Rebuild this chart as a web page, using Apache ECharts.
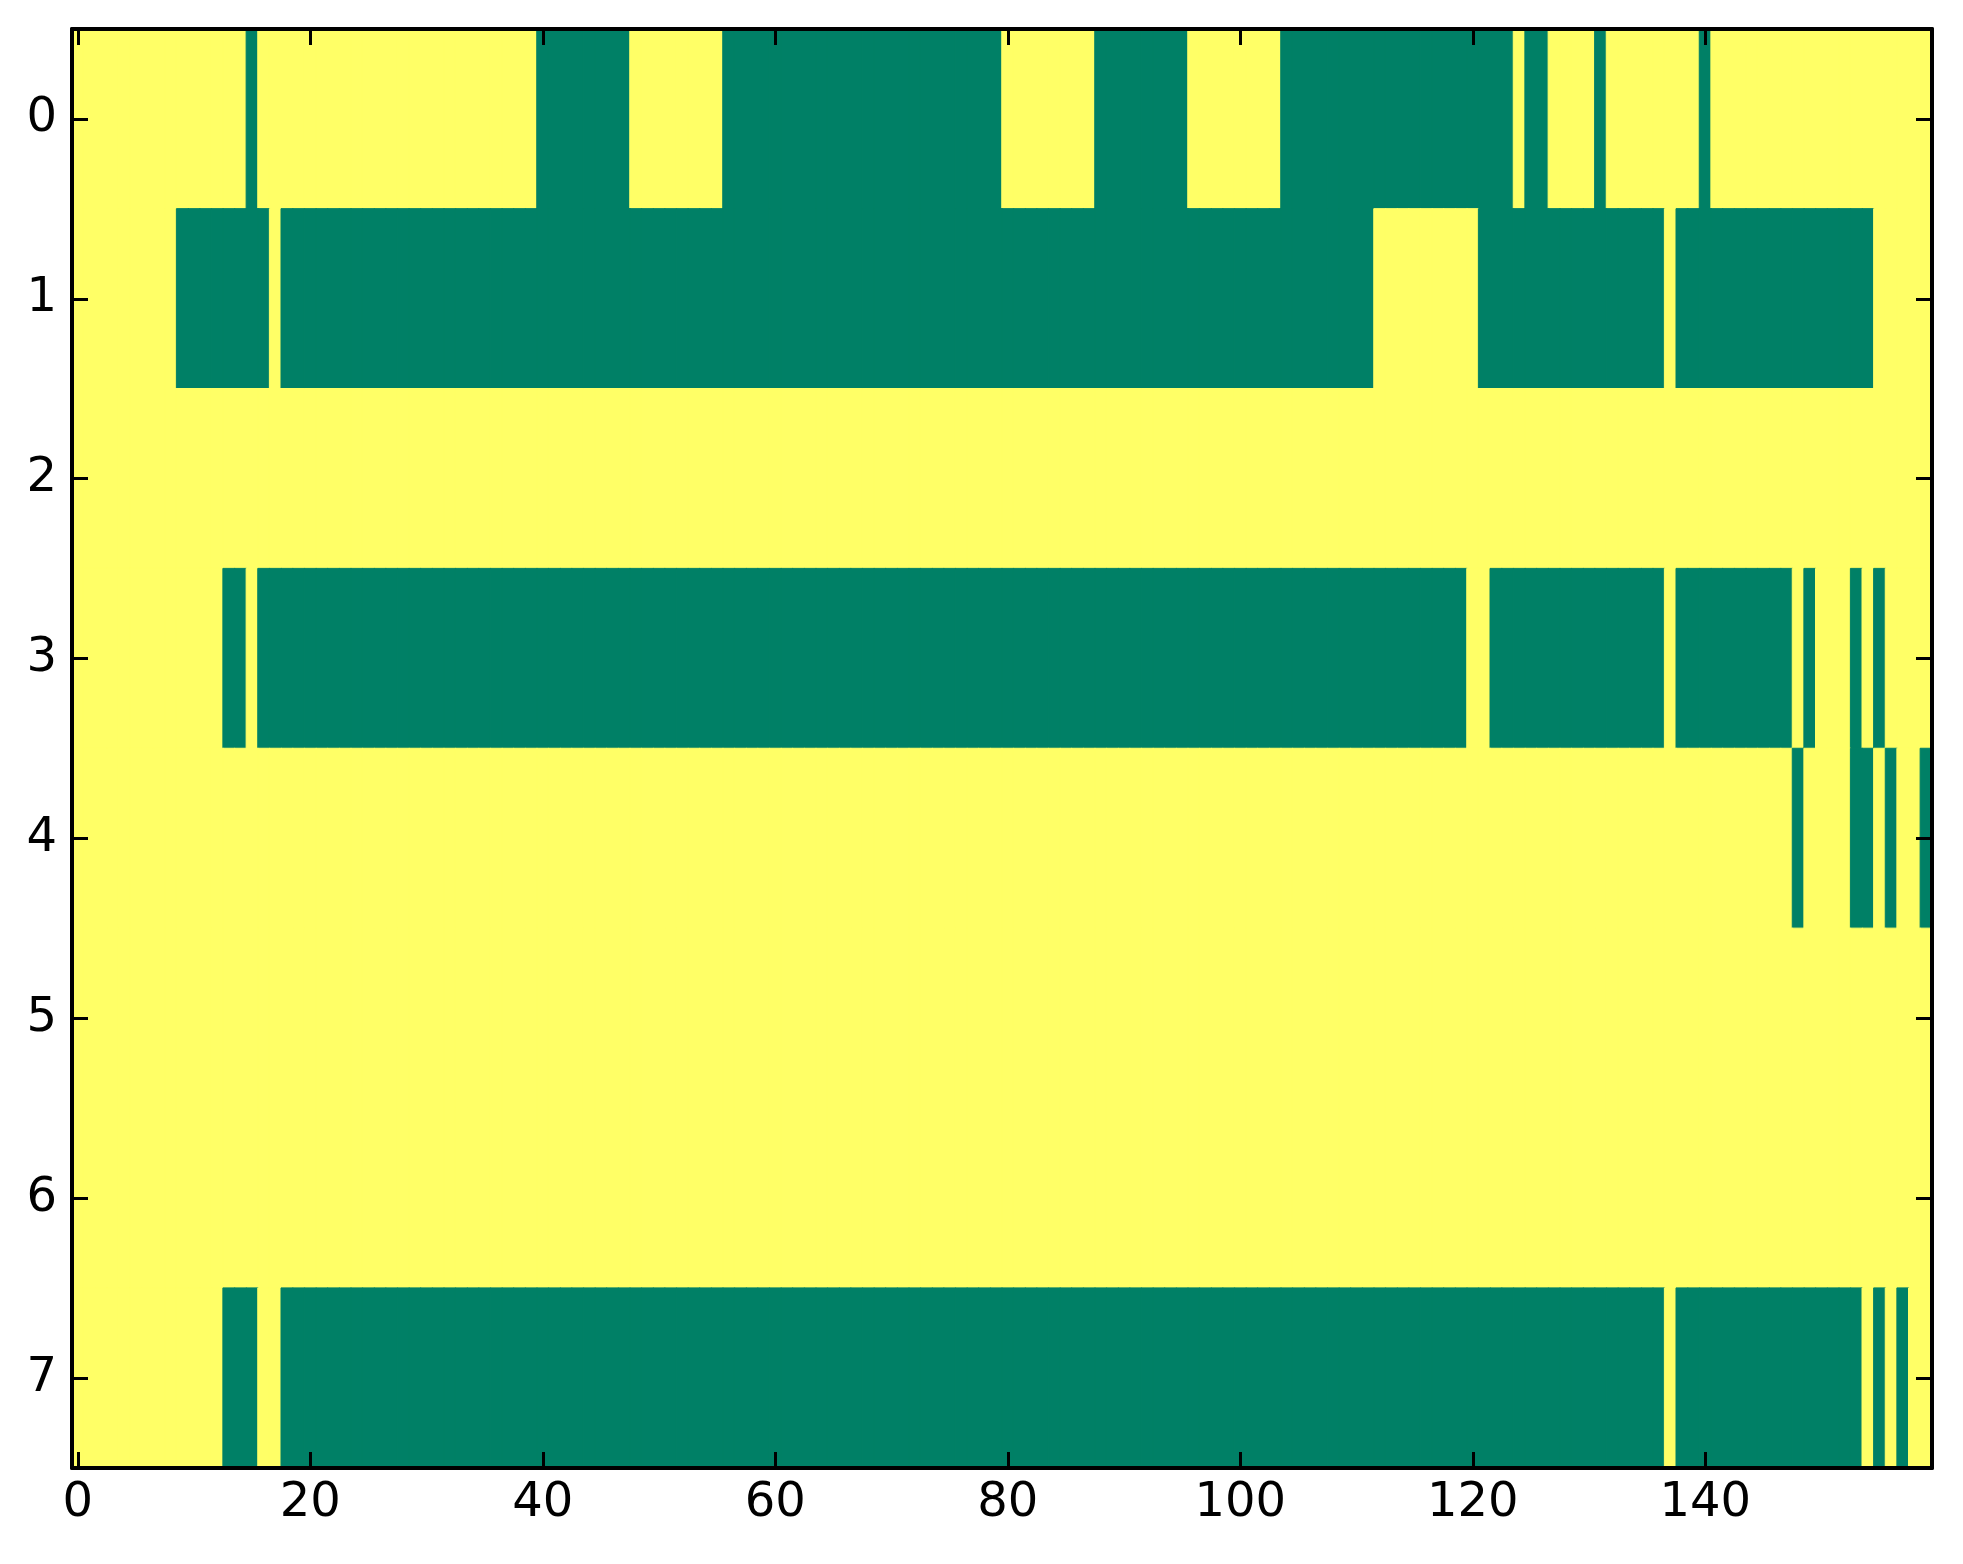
<!DOCTYPE html>
<html>
<head>
<meta charset="utf-8">
<script src="https://cdn.jsdelivr.net/npm/echarts@6/dist/echarts.min.js"></script>
<style>
html,body{margin:0;padding:0;background:#ffffff;}
#chart{width:1963px;height:1564px;}
</style>
</head>
<body>
<div id="chart"></div>
<script>
// Number of columns and row labels
const columnCount = 160;
const rowLabels = ['0', '1', '2', '3', '4', '5', '6', '7'];
const xTickStep = 20;

// Green (value 1) runs per row, inclusive [start, end] column indices
const row0 = [[15, 15], [40, 47], [56, 79], [88, 95], [104, 123], [125, 126], [131, 131], [140, 140]];
const row1 = [[9, 16], [18, 111], [121, 136], [138, 154]];
const row2 = [];
const row3 = [[13, 14], [16, 119], [122, 136], [138, 147], [149, 149], [153, 153], [155, 155]];
const row4 = [[148, 148], [153, 154], [156, 156], [159, 159]];
const row5 = [];
const row6 = [];
const row7 = [[13, 15], [18, 136], [138, 153], [155, 155], [157, 157]];

const rows = [row0, row1, row2, row3, row4, row5, row6, row7];

const YELLOW = '#ffff66';
const GREEN = '#008066';
const FONT = 'DejaVu Sans';

const xCategories = [];
for (let i = 0; i < columnCount; i++) xCategories.push(String(i));

const cells = [];
rows.forEach(function (runs, r) {
  for (let c = 0; c < columnCount; c++) {
    let v = 0;
    runs.forEach(function (run) { if (c >= run[0] && c <= run[1]) v = 1; });
    const col = v ? GREEN : YELLOW;
    cells.push({ value: [c, r, v], itemStyle: { color: col, borderColor: col, borderWidth: 1 } });
  }
});

const tickEvery = function (idx) { return idx % xTickStep === 0; };

const axisLineStyle = { show: true, onZero: false, lineStyle: { color: '#000', width: 4 } };
const tickStyle = { color: '#000', width: 3 };

const chart = echarts.init(document.getElementById('chart'), null, { renderer: 'canvas' });
chart.setOption({
  animation: false,
  backgroundColor: '#ffffff',
  grid: { left: 72, right: 31, top: 29, bottom: 96, containLabel: false, show: false },
  xAxis: [
    {
      type: 'category', data: xCategories, position: 'bottom', boundaryGap: true, z: 10,
      axisLine: axisLineStyle,
      axisTick: { show: true, inside: true, length: 16, alignWithLabel: true, interval: tickEvery, lineStyle: tickStyle },
      axisLabel: { show: true, interval: tickEvery, margin: 12, fontSize: 48, color: '#000', fontFamily: FONT },
      splitLine: { show: false }
    },
    {
      type: 'category', data: xCategories, position: 'top', boundaryGap: true, z: 10,
      axisLine: axisLineStyle,
      axisTick: { show: true, inside: true, length: 16, alignWithLabel: true, interval: tickEvery, lineStyle: tickStyle },
      axisLabel: { show: false },
      splitLine: { show: false }
    }
  ],
  yAxis: [
    {
      type: 'category', data: rowLabels, position: 'left', inverse: true, boundaryGap: true, z: 10,
      axisLine: axisLineStyle,
      axisTick: { show: true, inside: true, length: 16, alignWithLabel: true, lineStyle: tickStyle },
      axisLabel: { show: true, margin: 15, fontSize: 48, color: '#000', fontFamily: FONT },
      splitLine: { show: false }
    },
    {
      type: 'category', data: rowLabels, position: 'right', inverse: true, boundaryGap: true, z: 10,
      axisLine: axisLineStyle,
      axisTick: { show: true, inside: true, length: 16, alignWithLabel: true, lineStyle: tickStyle },
      axisLabel: { show: false },
      splitLine: { show: false }
    }
  ],
  series: [{
    type: 'heatmap', xAxisIndex: 0, yAxisIndex: 0, data: cells,
    emphasis: { disabled: true },
    z: 1
  }]
});
</script>
</body>
</html>
